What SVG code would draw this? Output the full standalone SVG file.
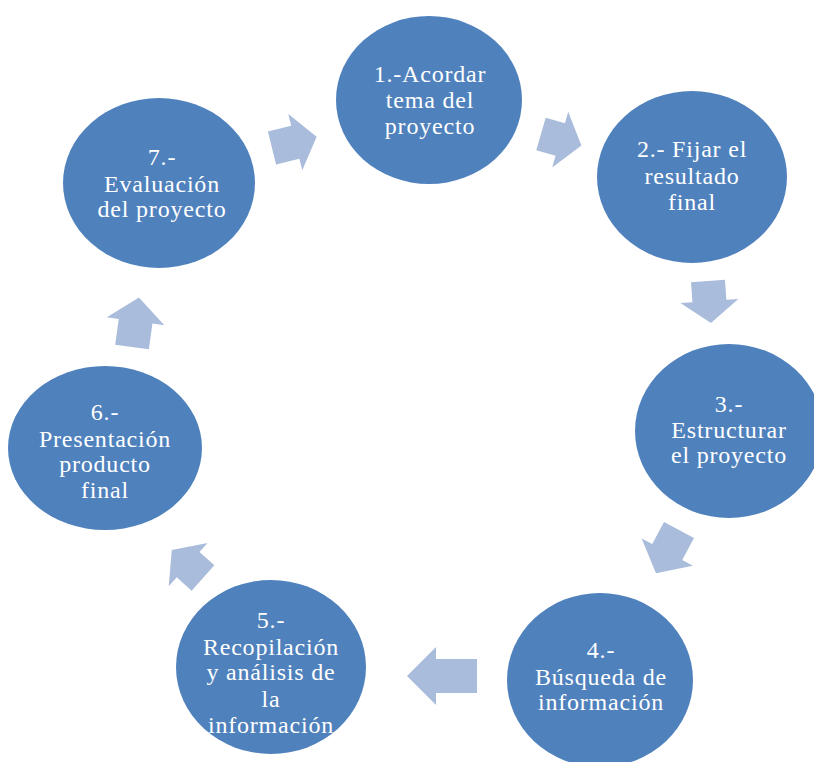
<svg xmlns="http://www.w3.org/2000/svg" width="814" height="762" viewBox="0 0 814 762">
<style>
.node{fill:#4F81BD;}
.lbl{font-family:"Liberation Serif","Times New Roman",serif;font-size:24px;fill:#FFFFFF;text-anchor:middle;letter-spacing:0.8px;}
.arr{fill:#A9BCDB;}
</style>
<rect x="0" y="0" width="814" height="762" fill="#FFFFFF"/>
<g id="connectors">
<path class="arr" transform="translate(541,134) rotate(16)" d="M0,-17 L20,-17 L20,-29 L42,0 L20,29 L20,17 L0,17 Z"/>
<path class="arr" transform="translate(708,281) rotate(86)" d="M0,-17 L20,-17 L20,-29 L42,0 L20,29 L20,17 L0,17 Z"/>
<path class="arr" transform="translate(679,530) rotate(118)" d="M0,-17 L25,-17 L25,-29 L49,0 L25,29 L25,17 L0,17 Z"/>
<path class="arr" transform="translate(477,676) rotate(180)" d="M0,-17 L41,-17 L41,-29 L70,0 L41,29 L41,17 L0,17 Z"/>
<path class="arr" transform="translate(203,578) rotate(-138)" d="M0,-17 L20,-17 L20,-29 L42,0 L20,29 L20,17 L0,17 Z"/>
<path class="arr" transform="translate(132,347) rotate(-82)" d="M0,-17 L26,-17 L26,-29 L50,0 L26,29 L26,17 L0,17 Z"/>
<path class="arr" transform="translate(272,148) rotate(-14)" d="M0,-17 L24,-17 L24,-29 L46,0 L24,29 L24,17 L0,17 Z"/>
</g>
<g id="n1">
<ellipse class="node" cx="429" cy="100" rx="93" ry="84"/>
<text class="lbl"><tspan x="430" y="82">1.-Acordar</tspan><tspan x="430" y="108">tema del</tspan><tspan x="430" y="134">proyecto</tspan></text>
</g>
<g id="n2">
<ellipse class="node" cx="692" cy="177" rx="95" ry="86"/>
<text class="lbl"><tspan x="692" y="157">2.- Fijar el</tspan><tspan x="692" y="184">resultado</tspan><tspan x="692" y="210">final</tspan></text>
</g>
<g id="n3">
<ellipse class="node" cx="729" cy="431" rx="94" ry="87"/>
<text class="lbl"><tspan x="729" y="412">3.-</tspan><tspan x="729" y="438">Estructurar</tspan><tspan x="729" y="463">el proyecto</tspan></text>
</g>
<g id="n4">
<ellipse class="node" cx="600" cy="680" rx="93" ry="87"/>
<text class="lbl"><tspan x="601" y="658">4.-</tspan><tspan x="601" y="685">Búsqueda de</tspan><tspan x="601" y="710">información</tspan></text>
</g>
<g id="n5">
<ellipse class="node" cx="271" cy="667" rx="95" ry="87"/>
<text class="lbl"><tspan x="271" y="628">5.-</tspan><tspan x="271" y="655">Recopilación</tspan><tspan x="271" y="680">y análisis de</tspan><tspan x="271" y="707">la</tspan><tspan x="271" y="733">información</tspan></text>
</g>
<g id="n6">
<ellipse class="node" cx="105" cy="448" rx="97" ry="82"/>
<text class="lbl"><tspan x="105" y="420">6.-</tspan><tspan x="105" y="447">Presentación</tspan><tspan x="105" y="472">producto</tspan><tspan x="105" y="498">final</tspan></text>
</g>
<g id="n7">
<ellipse class="node" cx="159" cy="183" rx="96" ry="85"/>
<text class="lbl"><tspan x="162" y="165">7.-</tspan><tspan x="162" y="192">Evaluación</tspan><tspan x="162" y="217">del proyecto</tspan></text>
</g>
</svg>
